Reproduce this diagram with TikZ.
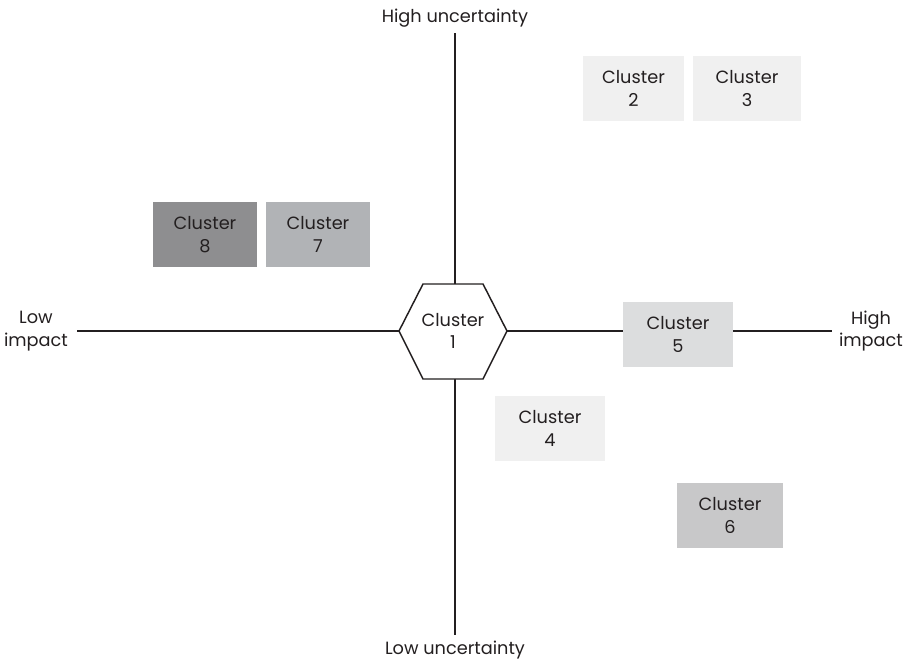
\documentclass[tikz,border=0pt]{standalone}
\usepackage{fontspec}
\setmainfont{Poppins}
\usetikzlibrary{shapes.geometric}
\definecolor{cA}{HTML}{F0F0F0}
\definecolor{cB}{HTML}{DCDDDE}
\definecolor{cC}{HTML}{C8C8C9}
\definecolor{cD}{HTML}{B1B3B6}
\definecolor{cE}{HTML}{8E8E90}
\definecolor{ink}{HTML}{231F20}
\begin{document}
\begin{tikzpicture}[x=0.75pt,y=-0.75pt,
  txt/.style={font=\fontsize{13.3}{17}\selectfont, text=ink, align=center},
  box/.style={txt, inner sep=0pt, minimum width=#1*0.75pt, minimum height=65*0.75pt},
  box/.default=104,
  axis/.style={draw=ink, line width=1.1pt}]
\useasboundingbox (0,0) rectangle (908,664);
% axes
\coordinate (vt) at (455,33);
\coordinate (vb) at (455,635);
\coordinate (hl) at (77,331);
\coordinate (hr) at (832,331);
\draw[axis] (vt) -- (vb);
\draw[axis] (hl) -- (hr);
% hexagon
\node[txt] (c1) at (453,331) {};
\filldraw[axis, fill=white] (399,331) -- (423,284) -- (483,284) -- (507,331) -- (483,379) -- (423,379) -- cycle;
\node[txt] at (c1) {Cluster\\1};
% boxes
\node[box=101, fill=cA] (c2) at (633.5,88.5) {Cluster\\2};
\node[box=108, fill=cA] (c3) at (747,88.5) {Cluster\\3};
\node[box=110, fill=cA] (c4) at (550,428.5) {Cluster\\4};
\node[box=110, fill=cB] (c5) at (678,334.5) {Cluster\\5};
\node[box=106, fill=cC] (c6) at (730,515.5) {Cluster\\6};
\node[box=104, fill=cD] (c7) at (318,234.5) {Cluster\\7};
\node[box=104, fill=cE] (c8) at (205,234.5) {Cluster\\8};
% axis labels
\node[txt] (hu) at (455,18) {High uncertainty};
\node[txt] (lu) at (455,650) {Low uncertainty};
\node[txt] (li) at (36,331) {Low\\impact};
\node[txt] (hi) at (871,331) {High\\impact};
\end{tikzpicture}
\end{document}
